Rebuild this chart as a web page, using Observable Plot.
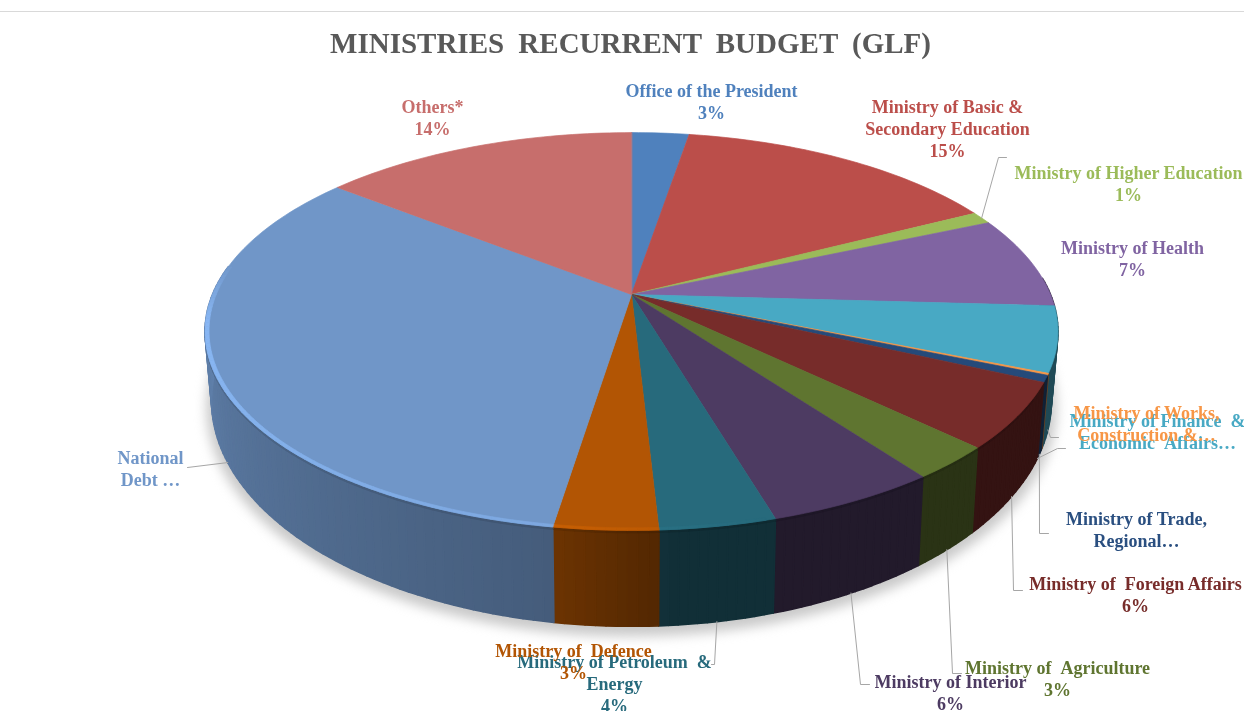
<!DOCTYPE html>
<html>
<head>
<meta charset="utf-8">
<script src="https://cdn.jsdelivr.net/npm/d3@7"></script>
<script src="https://cdn.jsdelivr.net/npm/@observablehq/plot@0.6"></script>
<style>
  html, body { margin: 0; padding: 0; background: #fff; overflow: hidden; }
  #wrap { width: 1244px; height: 711px; position: relative; }
  #title { box-sizing: border-box; margin-top: 11px; border-top: 1px solid #d9d9d9; height: 55px; padding-left: 17px;
    font: bold 29px "Liberation Serif", serif; color: #595959; text-align: center; word-spacing: 7px;
    line-height: 62px; filter: blur(0.4px); }
  svg { display: block; }
</style>
</head>
<body>
<div id="wrap">
  <div id="title">MINISTRIES RECURRENT BUDGET (GLF)</div>
  <div id="chart"></div>
</div>
<script>
// ---- data ----
const sliceNames = ["Office of the President", "Ministry of Basic & Secondary Education", "Ministry of Higher Education",
  "Ministry of Health", "Ministry of Finance & Economic Affairs", "Ministry of Works, Construction", "Ministry of Trade, Regional",
  "Ministry of Foreign Affairs", "Ministry of Agriculture", "Ministry of Interior", "Ministry of Petroleum & Energy",
  "Ministry of Defence", "National Debt", "Others*"];
const shareValues = [2.6, 14.8, 1.0, 7.5, 5.3, 0.15, 0.55, 5.3, 2.7, 5.5, 3.7, 3.3, 33.2, 14.3];
const sliceColors = ["#4f81bd", "#bb4e4a", "#9bbb59", "#8064a2", "#48a9c4", "#f79646", "#254a7a", "#772c2a", "#5f7530",
  "#4d3b62", "#276a7c", "#b25504", "#7096c8", "#c76e6c"];
const labelLines = [
  ["Office of the President", "3%"],
  ["Ministry of Basic &", "Secondary Education", "15%"],
  ["Ministry of Higher Education", "1%"],
  ["Ministry of Health", "7%"],
  ["Ministry of Finance  &", "Economic  Affairs…"],
  ["Ministry of Works,", "Construction &…"],
  ["Ministry of Trade,", "Regional…"],
  ["Ministry of  Foreign Affairs", "6%"],
  ["Ministry of  Agriculture", "3%"],
  ["Ministry of Interior", "6%"],
  ["Ministry of Petroleum  &", "Energy", "4%"],
  ["Ministry of  Defence", "3%"],
  ["National", "Debt …"],
  ["Others*", "14%"]
];

// ---- layout (chart units = page pixels) ----
const labelAnchor = [[711, 91], [947, 107], [1128, 173], [1132, 248], [1157, 421], [1146, 413], [1136, 519],
  [1135, 584], [1057, 668], [950, 682], [614, 662], [573, 651], [150, 458], [432, 107]];
const leaderElbows = {2: [[998, 157], [1006, 157]], 4: [[1057, 448], [1065, 448]], 5: [[1050, 437], [1058, 437]],
  6: [[1039, 533], [1048, 533]], 7: [[1013, 590], [1022, 590]], 8: [[952, 673], [961, 673]], 9: [[860, 684], [869, 684]],
  10: [[714, 664], [711, 664]], 12: [[187, 467]]};
const leaderAngleDeg = {4: 115, 5: 108, 12: 244};
const top_ = {cx: 631, y0: 294, A: 192, B: 419, p: 0.186};
const bot_ = {cx: 631, y0: 358, A: 218, B: 412.6, p: 0.186};
const chartTop = 66, W = 1244, H = 711 - chartTop;

// ---- geometry derived from the values ----
const project = (d, a, r = 1) => {
  const X = r * Math.sin(a), F = -r * Math.cos(a), w = 1 - d.p * F;
  return {x: d.cx + d.B * X / w, y: d.y0 + d.A * F / w};
};
const arcs = d3.pie().sort(null).value(d => d)(shareValues);
const rad = Math.PI / 180;
const mult = (c, k) => { const o = d3.rgb(c); return d3.rgb(o.r * k, o.g * k, o.b * k).formatHex(); };
const wallShade = deg => deg < 175 ? 0.44 : deg < 190 ? 0.44 + (deg - 175) / 15 * 0.18 : Math.min(0.88, 0.62 + (deg - 190) / 85 * 0.26);
const rimLight = deg => deg < 165 ? 0 : deg < 190 ? (deg - 165) / 25 * 0.12 : deg < 262 ? 0.12 + (deg - 190) / 72 * 0.1 : deg < 280 ? 0.22 * (280 - deg) / 18 : 0;

const walls = [], wedges = [], bevel = [], under = [];
arcs.forEach((s, i) => {
  const c = sliceColors[i];
  const n = Math.max(1, Math.ceil((s.endAngle - s.startAngle) / (1.2 * rad)));
  const ang = d3.range(n + 1).map(k => s.startAngle + (s.endAngle - s.startAngle) * k / n);
  // top face
  const id = "w" + i;
  wedges.push({id, fill: c, ...project(top_, 0, 0)});
  ang.forEach(a => wedges.push({id, fill: c, ...project(top_, a)}));
  // side wall and bevelled rim
  d3.pairs(ang).forEach(([a, b], k) => {
    const deg = (a + b) / 2 / rad;
    if (deg < 85 || deg > 279) return;
    const qid = `q${i}-${k}`, fill = mult(c, wallShade(deg));
    [project(top_, a), project(top_, b), project(bot_, b), project(bot_, a)].forEach(p => walls.push({id: qid, fill, ...p}));
    if (deg > 120) {
      const pa = project(top_, a), pb = project(top_, b);
      if (deg < 262) {
        const did = `d${i}-${k}`, dk = mult(c, wallShade(deg) * 0.9);
        [pa, pb, {x: pb.x, y: pb.y + 2.5}, {x: pa.x, y: pa.y + 2.5}].forEach(p => under.push({id: did, fill: dk, ...p}));
      }
      const l = rimLight(deg);
      if (l > 0) {
        const hi = mult(c, 1 + l), rid = `r${i}-${k}`;
        [project(top_, a, 0.991), project(top_, b, 0.991), pb, pa].forEach(p => bevel.push({id: rid, fill: hi, ...p}));
      }
    }
  });
});
const shadow = d3.range(0, 360, 2).map(d => {
  const p = project(bot_, d * rad, 1.012);
  return {x: p.x, y: p.y + 6};
});

const textRows = labelLines.flatMap((lines, i) => lines.map((t, k) => ({
  t: t.replace(/  /g, "\u00a0\u00a0"), fill: sliceColors[i] === "#254a7a" ? "#2a4f80" : sliceColors[i],
  x: labelAnchor[i][0], y: labelAnchor[i][1] + k * 22
})));
const leaders = Object.entries(leaderElbows).flatMap(([key, pts]) => {
  const i = +key, s = arcs[i];
  const a = leaderAngleDeg[i] != null ? leaderAngleDeg[i] * rad : (s.startAngle + s.endAngle) / 2;
  const start = a < 90 * rad ? project(top_, a) : project(bot_, a);
  return [start, ...pts.map(([x, y]) => ({x, y}))].map(p => ({id: i, x: p.x, y: p.y}));
});

const poly = (rows, width = 0.7) => Plot.line(rows, {x: "x", y: "y", z: "id", fill: "fill", stroke: "fill", strokeWidth: width, curve: "linear-closed", imageFilter: "blur(0.3px)"});

const chart = Plot.plot({
  width: W, height: H,
  margin: 0,
  x: {domain: [0, W], range: [0, W], axis: null},
  y: {domain: [chartTop, 711], range: [0, H], axis: null},
  color: {type: "identity"},
  marks: [
    Plot.line(shadow, {x: "x", y: "y", fill: "#bbbbbb", stroke: "none", curve: "linear-closed", imageFilter: "blur(6px)", fillOpacity: 0.8}),
    poly(walls, 1.6),
    poly(under, 1),
    poly(wedges),
    poly(bevel, 0.6),
    Plot.line(leaders, {x: "x", y: "y", z: "id", stroke: "#a6a6a6", strokeWidth: 1}),
    Plot.text(textRows, {x: "x", y: "y", text: "t", fill: "fill", fontFamily: "Liberation Serif", fontWeight: "bold", fontSize: 18, textAnchor: "middle", imageFilter: "blur(0.4px)"})
  ]
});
document.getElementById("chart").appendChild(chart);
</script>
</body>
</html>
